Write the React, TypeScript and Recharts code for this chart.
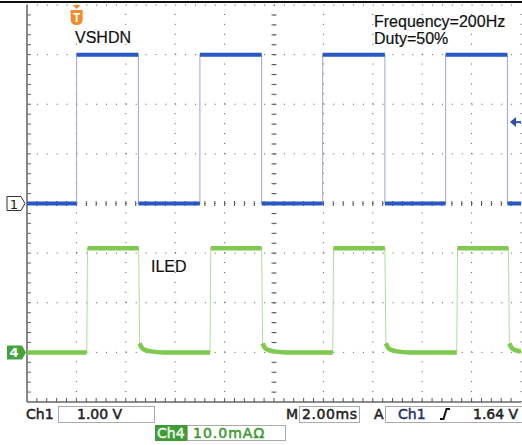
import { ComposedChart, Line, XAxis, YAxis, ReferenceLine, ReferenceDot } from "recharts";

// horizontal: 2.00 ms/div, 10 divisions
const TIME_TICKS_MS = [0, 2, 4, 6, 8, 10, 12, 14, 16, 18, 20];
// Ch1: 1.00 V/div, ground marker "1" at the centre line
const CH1_TICKS_V = [-4, -3, -2, -1, 0, 1, 2, 3, 4];
// Ch4: 10.0 mA/div, ground marker "4" one division above the bottom
const CH4_DOMAIN_MA = [-10, 70];

// VSHDN edges (rise, fall, rise, ...)
const CH1_EDGES_MS = [2.01, 4.51, 7.0, 9.5, 11.97, 14.49, 16.95, 19.45];
const CH1_LEVELS_V = [0, 3.0];

// ILED edges
const CH4_RISE_MS = [2.42, 7.41, 12.38, 17.4];
const CH4_FALL_MS = [4.52, 9.5, 14.49, 19.49];
const CH4_LEVELS_MA = [0, 21];
// decay after each falling edge
const CH4_TAIL_MS = [0.04, 0.12, 0.25, 0.5, 1.0];
const CH4_TAIL_MA = [1.8, 1.0, 0.5, 0.2, 0];

const TRIGGER_MS = 2.01;
const TRIGGER_LEVEL_V = 1.64;

const BLUE = "#2858c4";
const BLUE_EDGE = "#9aa8cc";
const GREEN = "#7ec94e";
const GREEN_EDGE = "#b3dd98";
const GRID = "#555";

type Pt = { t: number; v: number | null };

const ch1Segments = (): Pt[][] => {
  const segs: Pt[][] = [];
  let start = 0;
  CH1_EDGES_MS.forEach((e, k) => {
    const lvl = CH1_LEVELS_V[k % 2];
    segs.push([{ t: start, v: lvl }, { t: e, v: lvl }]);
    start = e;
  });
  const last = CH1_LEVELS_V[CH1_EDGES_MS.length % 2];
  segs.push([{ t: start, v: last }, { t: 20, v: last }]);
  return segs;
};

const ch4Segments = (): Pt[][] => {
  const [lo, hi] = CH4_LEVELS_MA;
  const segs: Pt[][] = [[{ t: 0, v: lo }, { t: CH4_RISE_MS[0], v: lo }]];
  CH4_RISE_MS.forEach((r, k) => {
    const f = CH4_FALL_MS[k];
    segs.push([{ t: r + 0.03, v: hi }, { t: f, v: hi }]);
    const tail: Pt[] = CH4_TAIL_MS.map((dt, j) => ({ t: f + dt, v: CH4_TAIL_MA[j] }));
    const next = CH4_RISE_MS[k + 1];
    if (next !== undefined) tail.push({ t: next, v: lo });
    segs.push(tail);
  });
  return segs;
};

const joined = (segs: Pt[][]) => segs.flat();
const broken = (segs: Pt[][]) =>
  segs.flatMap((s, i) => (i === 0 ? s : [{ t: s[0].t, v: null }, ...s]));

const ch1 = ch1Segments();
const ch4 = ch4Segments();

// centre graticule lines with minor ticks every 1/5 division
const centreV = (p: any) => {
  const top = Math.min(p.y1, p.y2);
  const bot = Math.max(p.y1, p.y2);
  const step = (bot - top) / 40;
  return (
    <g>
      <line x1={p.x1} x2={p.x1} y1={top} y2={bot} stroke={GRID} strokeDasharray="1 8.925" />
      {Array.from({ length: 39 }, (_, k) => (
        <line key={k} x1={p.x1 - 2.5} x2={p.x1 + 2.5} y1={top + (k + 1) * step} y2={top + (k + 1) * step} stroke={GRID} />
      ))}
    </g>
  );
};

const centreH = (p: any) => {
  const l = Math.min(p.x1, p.x2);
  const r = Math.max(p.x1, p.x2);
  const step = (r - l) / 50;
  return (
    <g>
      <line x1={l} x2={r} y1={p.y1} y2={p.y1} stroke={GRID} strokeDasharray="1 8.88" />
      {Array.from({ length: 49 }, (_, k) => (
        <line key={k} x1={l + (k + 1) * step} x2={l + (k + 1) * step} y1={p.y1 - 2.5} y2={p.y1 + 2.5} stroke={GRID} />
      ))}
    </g>
  );
};

const leftBorder = (p: any) => {
  const top = Math.min(p.y1, p.y2);
  const bot = Math.max(p.y1, p.y2);
  const step = (bot - top) / 40;
  return (
    <g>
      <line x1={p.x1} x2={p.x1} y1={top} y2={bot} stroke="#888" strokeWidth={2} />
      {Array.from({ length: 39 }, (_, k) => (
        <line key={k} x1={p.x1} x2={p.x1 + 4} y1={top + (k + 1) * step} y2={top + (k + 1) * step} stroke="#666" />
      ))}
    </g>
  );
};

const bottomBorder = (p: any) => {
  const l = Math.min(p.x1, p.x2);
  const r = Math.max(p.x1, p.x2);
  const step = (r - l) / 50;
  return (
    <g>
      <line x1={l} x2={r} y1={p.y1} y2={p.y1} stroke="#666" strokeWidth={1.5} />
      {Array.from({ length: 49 }, (_, k) => (
        <line key={k} x1={l + (k + 1) * step} x2={l + (k + 1) * step} y1={p.y1} y2={p.y1 - 4} stroke="#555" />
      ))}
    </g>
  );
};

const triggerMark = (p: any) => {
  const { cx, cy } = p;
  return (
    <g>
      <path d={`M${cx - 4},${cy} L${cx + 4},${cy} L${cx},${cy + 4} Z`} fill="#f08a2c" />
      <path
        d={`M${cx - 6},${cy + 5} L${cx + 6},${cy + 5} L${cx + 6},${cy + 14} Q${cx + 6},${cy + 20} ${cx},${cy + 20} Q${cx - 6},${cy + 20} ${cx - 6},${cy + 14} Z`}
        fill="#f08a2c"
      />
      <text x={cx} y={cy + 17} textAnchor="middle" fill="#fff" fontSize={12} fontWeight="bold" fontFamily="Liberation Sans">
        T
      </text>
    </g>
  );
};

const levelArrow = (p: any) => {
  const { cx, cy } = p;
  return (
    <g>
      <line x1={cx - 8} x2={cx} y1={cy} y2={cy} stroke="#2a4fb0" strokeWidth={2} />
      <path d={`M${cx - 11},${cy} L${cx - 5},${cy - 5} L${cx - 5},${cy + 5} Z`} fill="#2a4fb0" />
    </g>
  );
};

const ch1Marker = (p: any) => {
  const { cx, cy } = p;
  return (
    <g>
      <path
        d={`M${cx - 20},${cy - 7} L${cx - 6},${cy - 7} L${cx - 2},${cy} L${cx - 6},${cy + 7} L${cx - 20},${cy + 7} Z`}
        fill="#fff"
        stroke="#333"
      />
      <text x={cx - 13} y={cy + 5} textAnchor="middle" fontSize={13} fontFamily="DejaVu Sans" fill="#222">
        1
      </text>
    </g>
  );
};

const ch4Marker = (p: any) => {
  const { cx, cy } = p;
  return (
    <g>
      <path
        d={`M${cx - 20},${cy - 7} L${cx - 5},${cy - 7} L${cx - 1},${cy} L${cx - 5},${cy + 7} L${cx - 20},${cy + 7} Z`}
        fill="#45a33f"
      />
      <text x={cx - 13} y={cy + 5} textAnchor="middle" fontSize={13} fontWeight="bold" fontFamily="DejaVu Sans" fill="#fff">
        4
      </text>
    </g>
  );
};

const label = { fontFamily: "Liberation Sans, Arial, sans-serif", fontSize: 16, fill: "#111", stroke: "#111", strokeWidth: 0.2 };
const status = { fontFamily: "DejaVu Sans, sans-serif", fontSize: 14, fill: "#222", stroke: "#222", strokeWidth: 0.5 };

export default function App() {
  return (
    <div style={{ position: "absolute", left: 0, top: 0, width: 522, height: 445, background: "#fff", overflow: "hidden" }}>
      <ComposedChart width={522} height={445} margin={{ top: 5, right: 1, bottom: 43, left: 27 }}>
        <XAxis xAxisId="t" type="number" dataKey="t" domain={[0, 20]} ticks={TIME_TICKS_MS} allowDataOverflow hide />
        <YAxis yAxisId="v" type="number" domain={[-4, 4]} ticks={CH1_TICKS_V} allowDataOverflow hide />
        <YAxis yAxisId="i" type="number" domain={CH4_DOMAIN_MA} allowDataOverflow hide />

        {TIME_TICKS_MS.slice(1).map((t) =>
          t === 10 ? (
            <ReferenceLine key={t} xAxisId="t" yAxisId="v" x={t} shape={centreV} />
          ) : (
            <ReferenceLine key={t} xAxisId="t" yAxisId="v" x={t} stroke={GRID} strokeDasharray="1 8.925" />
          )
        )}
        {CH1_TICKS_V.slice(1).map((v) =>
          v === 0 ? (
            <ReferenceLine key={v} xAxisId="t" yAxisId="v" y={v} shape={centreH} />
          ) : (
            <ReferenceLine key={v} xAxisId="t" yAxisId="v" y={v} stroke={GRID} strokeDasharray="1 8.88" />
          )
        )}
        <ReferenceLine xAxisId="t" yAxisId="v" x={0} shape={leftBorder} />
        <ReferenceLine xAxisId="t" yAxisId="v" y={-4} shape={bottomBorder} />

        <Line xAxisId="t" yAxisId="v" data={joined(ch1)} dataKey="v" type="linear" stroke={BLUE_EDGE} strokeWidth={1}
          dot={false} activeDot={false} isAnimationActive={false} />
        <Line xAxisId="t" yAxisId="i" data={joined(ch4)} dataKey="v" type="linear" stroke={GREEN_EDGE} strokeWidth={1}
          dot={false} activeDot={false} isAnimationActive={false} />
        <Line xAxisId="t" yAxisId="v" data={broken(ch1)} dataKey="v" type="linear" stroke={BLUE} strokeWidth={4}
          connectNulls={false} dot={false} activeDot={false} isAnimationActive={false} />
        <Line xAxisId="t" yAxisId="i" data={broken(ch4)} dataKey="v" type="monotone" stroke={GREEN} strokeWidth={4.5}
          connectNulls={false} dot={false} activeDot={false} isAnimationActive={false} />

        <ReferenceDot xAxisId="t" yAxisId="v" x={TRIGGER_MS} y={4} shape={triggerMark} />
        <ReferenceDot xAxisId="t" yAxisId="v" x={20} y={TRIGGER_LEVEL_V} shape={levelArrow} />
        <ReferenceDot xAxisId="t" yAxisId="v" x={0} y={0} shape={ch1Marker} />
        <ReferenceDot xAxisId="t" yAxisId="i" x={0} y={0} shape={ch4Marker} />
      </ComposedChart>

      <svg width={522} height={445} style={{ position: "absolute", left: 0, top: 0, pointerEvents: "none" }}>
        <rect x={0} y={1} width={522} height={2} fill="#111" />
        <text x={75} y={43} {...label}>VSHDN</text>
        <text x={374} y={27} {...label}>Frequency=200Hz</text>
        <text x={374} y={44} {...label}>Duty=50%</text>
        <text x={151} y={272} {...label}>ILED</text>

        <text x={26} y={419} {...status}>Ch1</text>
        <rect x={58.5} y={406.5} width={96} height={16} fill="none" stroke="#aaa" />
        <text x={77} y={419} {...status}>1.00 V</text>

        <text x={286} y={419} {...status}>M</text>
        <rect x={299.5} y={406.5} width={60} height={16} fill="none" stroke="#aaa" />
        <text x={302} y={419} {...status} letterSpacing={0.6}>2.00ms</text>
        <text x={374} y={419} {...status}>A</text>
        <rect x={385.5} y={406.5} width={150} height={16} fill="none" stroke="#aaa" />
        <text x={398} y={419} {...status} fill="#23336e" stroke="#23336e">Ch1</text>
        <path d="M440,419 L443.5,419 L446.5,409 L450,409" fill="none" stroke="#111" strokeWidth={2} />
        <text x={473} y={419} {...status}>1.64 V</text>

        <rect x={155} y={425} width={32} height={16} fill="#3f9b36" />
        <text x={157} y={438} {...status} fill="#e8f5e0" stroke="#e8f5e0">Ch4</text>
        <rect x={187.5} y={425.5} width={98} height={15} fill="none" stroke="#aaa" />
        <text x={193} y={438} {...status} fill="#3c9a2c" stroke="#3c9a2c" letterSpacing={1}>10.0mAΩ</text>
      </svg>
    </div>
  );
}
